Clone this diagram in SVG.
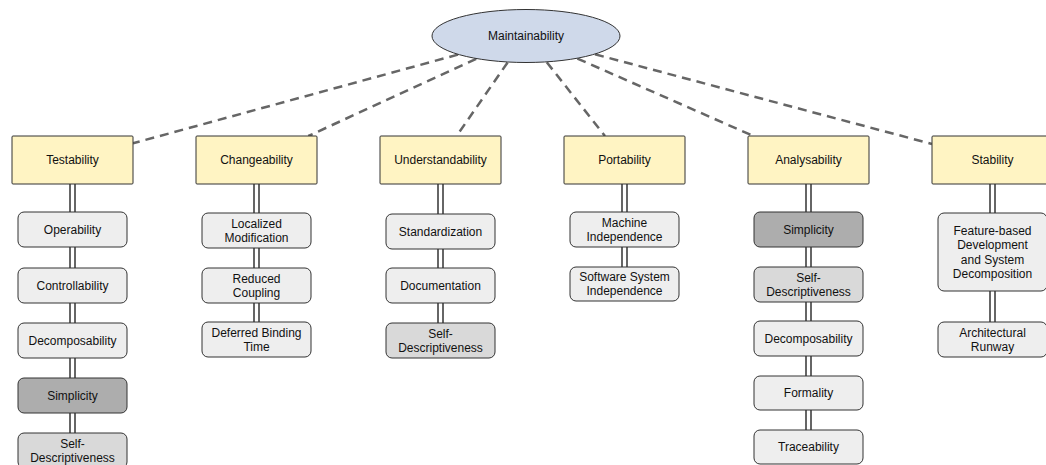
<svg xmlns="http://www.w3.org/2000/svg" width="1046" height="465" viewBox="0 0 1046 465">
<style>
text{font-family:"Liberation Sans",Arial,Helvetica,sans-serif;font-size:12px;fill:#111;text-anchor:middle}
.top{fill:#fff4c3;stroke:#333;stroke-width:1}
.sub{fill:#eeeeee;stroke:#333;stroke-width:1}
.mid{fill:#d9d9d9;stroke:#333;stroke-width:1}
.dark{fill:#adadad;stroke:#333;stroke-width:1}
.dash{stroke:#666;stroke-width:2.5;stroke-dasharray:9 6;fill:none}
.dblo{stroke:#666;stroke-width:7;fill:none}
.dbli{stroke:#fff;stroke-width:3;fill:none}
</style>
<g id="connectors">
<line class="dash" x1="458" y1="54.6" x2="133" y2="143.3"/>
<line class="dash" x1="476.2" y1="58.9" x2="308.3" y2="136"/>
<line class="dash" x1="507.6" y1="62.5" x2="456.6" y2="136"/>
<line class="dash" x1="546.8" y1="62.3" x2="605" y2="136"/>
<line class="dash" x1="577.4" y1="58.6" x2="753.4" y2="136"/>
<line class="dash" x1="595" y1="54.3" x2="932" y2="144"/>
<path class="dblo" d="M72.5 184V433M256.5 184V322M440.5 184V323M624.5 184V267M808.5 184V430M992.5 184V322"/>
<path class="dbli" d="M72.5 184V433M256.5 184V322M440.5 184V323M624.5 184V267M808.5 184V430M992.5 184V322"/>
</g>
<g id="maintainability"><ellipse cx="526" cy="36" rx="94" ry="26.5" fill="#cfd9ea" stroke="#333" stroke-width="1"/><text x="526" y="40">Maintainability</text></g>
<g id="testability"><rect class="top" x="12" y="136" width="121" height="48" rx="1"/><text x="72.5" y="164">Testability</text></g>
<g id="changeability"><rect class="top" x="196" y="136" width="121" height="48" rx="1"/><text x="256.5" y="164">Changeability</text></g>
<g id="understandability"><rect class="top" x="380" y="136" width="121" height="48" rx="1"/><text x="440.5" y="164">Understandability</text></g>
<g id="portability"><rect class="top" x="564" y="136" width="121" height="48" rx="1"/><text x="624.5" y="164">Portability</text></g>
<g id="analysability"><rect class="top" x="748" y="136" width="121" height="48" rx="1"/><text x="808.5" y="164">Analysability</text></g>
<g id="stability"><rect class="top" x="932" y="136" width="121" height="48" rx="1"/><text x="992.5" y="164">Stability</text></g>

<g id="t-operability"><rect class="sub" x="18" y="212" width="109" height="35" rx="6"/><text x="72.5" y="233.5">Operability</text></g>
<g id="t-controllability"><rect class="sub" x="18" y="268" width="109" height="35" rx="6"/><text x="72.5" y="289.5">Controllability</text></g>
<g id="t-decomposability"><rect class="sub" x="18" y="323" width="109" height="35" rx="6"/><text x="72.5" y="344.5">Decomposability</text></g>
<g id="t-simplicity"><rect class="dark" x="18" y="378" width="109" height="35" rx="6"/><text x="72.5" y="399.5">Simplicity</text></g>
<g id="t-selfdesc"><rect class="mid" x="18" y="433" width="109" height="35" rx="6"/><text x="72.5" y="447.5">Self-</text><text x="72.5" y="461.5">Descriptiveness</text></g>

<g id="c-localized"><rect class="sub" x="202" y="213" width="109" height="35" rx="6"/><text x="256.5" y="227.5">Localized</text><text x="256.5" y="241.5">Modification</text></g>
<g id="c-reduced"><rect class="sub" x="202" y="268" width="109" height="35" rx="6"/><text x="256.5" y="282.5">Reduced</text><text x="256.5" y="296.5">Coupling</text></g>
<g id="c-deferred"><rect class="sub" x="202" y="322" width="109" height="35" rx="6"/><text x="256.5" y="336.5">Deferred Binding</text><text x="256.5" y="350.5">Time</text></g>

<g id="u-standardization"><rect class="sub" x="386" y="214" width="109" height="35" rx="6"/><text x="440.5" y="235.5">Standardization</text></g>
<g id="u-documentation"><rect class="sub" x="386" y="268" width="109" height="35" rx="6"/><text x="440.5" y="289.5">Documentation</text></g>
<g id="u-selfdesc"><rect class="mid" x="386" y="323" width="109" height="35" rx="6"/><text x="440.5" y="337.5">Self-</text><text x="440.5" y="351.5">Descriptiveness</text></g>

<g id="p-machine"><rect class="sub" x="570" y="212" width="109" height="35" rx="6"/><text x="624.5" y="226.5">Machine</text><text x="624.5" y="240.5">Independence</text></g>
<g id="p-software"><rect class="sub" x="570" y="267" width="109" height="34" rx="6"/><text x="624.5" y="281">Software System</text><text x="624.5" y="295">Independence</text></g>

<g id="a-simplicity"><rect class="dark" x="754" y="212" width="109" height="35" rx="6"/><text x="808.5" y="233.5">Simplicity</text></g>
<g id="a-selfdesc"><rect class="mid" x="754" y="267" width="109" height="35" rx="6"/><text x="808.5" y="281.5">Self-</text><text x="808.5" y="295.5">Descriptiveness</text></g>
<g id="a-decomposability"><rect class="sub" x="754" y="321" width="109" height="35" rx="6"/><text x="808.5" y="342.5">Decomposability</text></g>
<g id="a-formality"><rect class="sub" x="754" y="376" width="109" height="34" rx="6"/><text x="808.5" y="397">Formality</text></g>
<g id="a-traceability"><rect class="sub" x="754" y="430" width="109" height="34" rx="6"/><text x="808.5" y="451">Traceability</text></g>

<g id="s-feature"><rect class="sub" x="938" y="213" width="109" height="78" rx="6"/><text x="992.5" y="235">Feature-based</text><text x="992.5" y="249.3">Development</text><text x="992.5" y="263.6">and System</text><text x="992.5" y="277.9">Decomposition</text></g>
<g id="s-runway"><rect class="sub" x="938" y="322" width="109" height="35" rx="6"/><text x="992.5" y="336.5">Architectural</text><text x="992.5" y="350.5">Runway</text></g>
</svg>
